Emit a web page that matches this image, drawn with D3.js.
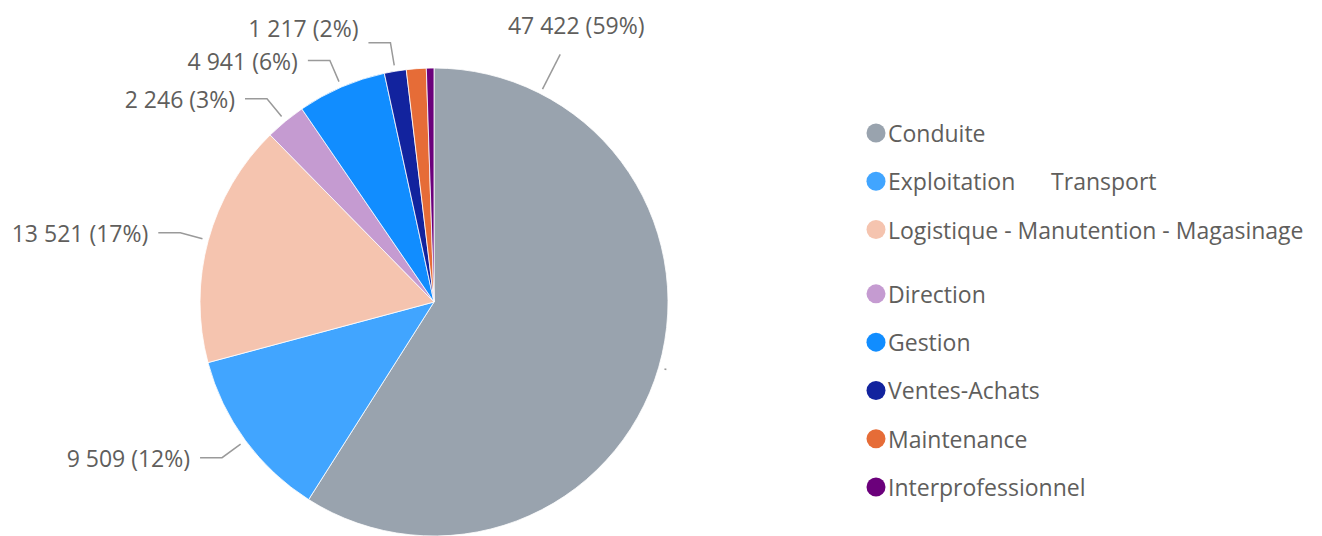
<!DOCTYPE html>
<html>
<head>
<meta charset="utf-8">
<script src="https://cdn.jsdelivr.net/npm/d3@7"></script>
<style>
  html, body { margin: 0; padding: 0; background: #fff; }
  svg { display: block; font-family: "Open Sans", "Noto Sans", sans-serif; }
</style>
</head>
<body>
<script>
let categories = ["Conduite", "Exploitation\u00a0\u00a0\u00a0\u00a0\u00a0\u00a0Transport", "Logistique - Manutention - Magasinage",
    "Direction", "Gestion", "Ventes-Achats", "Maintenance", "Interprofessionnel"];
let values = [47422, 9509, 13521, 2246, 4941, 1217, 1100, 420];
let colors = ["#99a3ae", "#41a5ff", "#f5c4af", "#c59bd1", "#118dff", "#12239e", "#e66c37", "#6b007b"];

let width = 1322, height = 536;
let cx = 434, cy = 302, radius = 234;

let fr = d3.formatLocale({decimal: ",", thousands: "\u00a0", grouping: [3], currency: ["", " €"]});
let fmt = fr.format(",d");
let total = d3.sum(values);

let svg = d3.select("body").append("svg")
    .attr("width", width)
    .attr("height", height);

let pie = d3.pie().sort(null).value(function (d) { return d; });
let arcs = pie(values);
let arc = d3.arc().innerRadius(0).outerRadius(radius);

let g = svg.append("g").attr("transform", "translate(" + cx + "," + cy + ")");

g.selectAll("path")
    .data(arcs)
    .enter().append("path")
    .attr("d", arc)
    .attr("fill", function (d, i) { return colors[i]; })
    .attr("stroke", "#fff")
    .attr("stroke-width", 0.8);

// point at given radius and angle (d3 angle: 0 = top, clockwise)
function pt(r, a) { return [r * Math.sin(a), -r * Math.cos(a)]; }

let labelColor = "#605e5c", lineColor = "#9a9a9a";
let labelSize = 23;
let minGap = 33;

// left side labels, bottom to top, pushed up when they collide
let lastY = Infinity;
arcs.forEach(function (d, i) {
    let share = d.value / total;
    let text = fmt(d.value) + " (" + Math.round(share * 100) + "%)";
    let mid = (d.startAngle + d.endAngle) / 2;
    if (i === 0) {
        // largest slice: small stub at mid angle, label pulled up to the top
        let s0 = pt(radius + 6, mid), s1 = pt(radius + 8, mid);
        g.append("line").attr("x1", s0[0]).attr("y1", s0[1]).attr("x2", s1[0]).attr("y2", s1[1])
            .attr("stroke", lineColor).attr("stroke-width", 1.5);
        let a = 27 * Math.PI / 180;
        let p0 = pt(radius + 5, a), p1 = pt(radius + 44, a);
        g.append("line").attr("x1", p0[0]).attr("y1", p0[1]).attr("x2", p1[0]).attr("y2", p1[1])
            .attr("stroke", lineColor).attr("stroke-width", 1.5);
        g.append("text").attr("x", p1[0] + 16).attr("y", p1[1] - 29)
            .attr("text-anchor", "middle").attr("dominant-baseline", "central")
            .attr("font-size", labelSize).attr("fill", labelColor).text(text);
        return;
    }
    if (share < 0.0145) return;
    let p0 = pt(radius + 6, mid), p1 = pt(radius + 29, mid);
    let side = p1[0] < 0 ? -1 : 1;
    let p2 = [p1[0] + side * 22, p1[1]];
    let ty = Math.min(p2[1], lastY - minGap);
    lastY = ty;
    g.append("polyline")
        .attr("points", [p0, p1, p2].map(function (p) { return p.join(","); }).join(" "))
        .attr("fill", "none").attr("stroke", lineColor).attr("stroke-width", 1.5);
    g.append("text").attr("x", p2[0] + side * 10).attr("y", ty)
        .attr("text-anchor", side < 0 ? "end" : "start").attr("dominant-baseline", "central")
        .attr("font-size", labelSize).attr("fill", labelColor).text(text);
});

// legend
let legend = svg.append("g").attr("transform", "translate(876,0)");
let ly = d3.scaleLinear().domain([0, 7]).range([133, 487 - 16]);
let items = legend.selectAll(".item")
    .data(categories)
    .enter().append("g")
    .attr("class", "item")
    .attr("transform", function (d, i) { return "translate(0," + (ly(i) + (i >= 3 ? 16 : 0)) + ")"; });
items.append("circle").attr("r", 9.5).attr("fill", function (d, i) { return colors[i]; });
items.append("text").attr("x", 12).attr("dominant-baseline", "central")
    .attr("font-size", 23).attr("fill", labelColor)
    .text(function (d) { return d; });
</script>
</body>
</html>
